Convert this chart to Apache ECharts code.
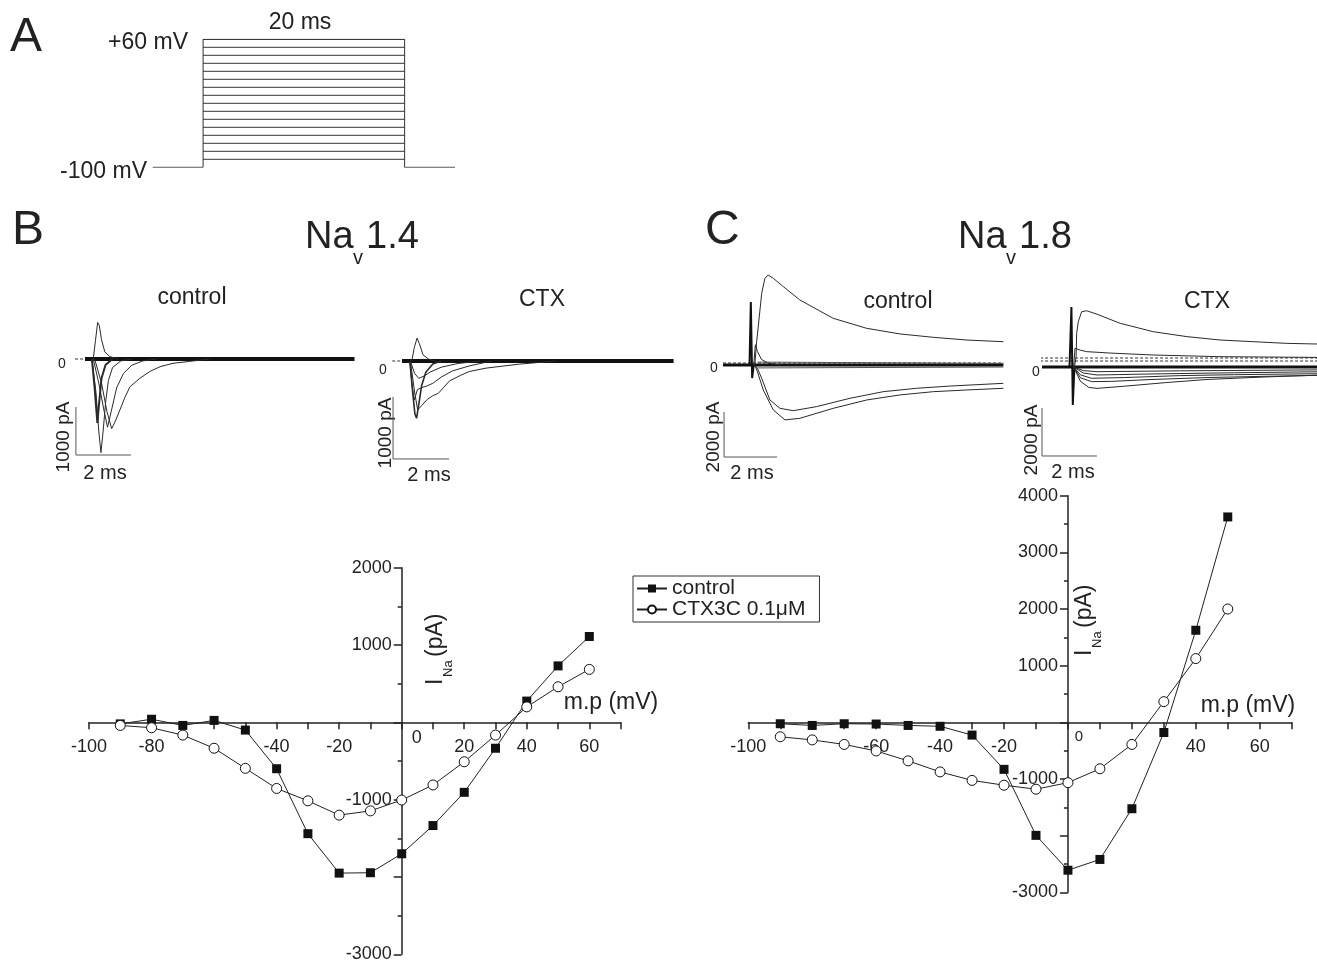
<!DOCTYPE html>
<html>
<head>
<meta charset="utf-8">
<title>Nav1.4 / Nav1.8 CTX3C</title>
<script src="https://cdn.jsdelivr.net/npm/echarts@6/dist/echarts.min.js"></script>
<style>
    html, body { margin: 0; padding: 0; background: #fff; }
    #chart { width: 1317px; height: 963px; }
</style>
</head>
<body>
<div id="chart"></div>
<script>
const FONT = "'Liberation Sans', Arial, sans-serif"
const INK = '#222'

// A: voltage protocol (ms, mV)
const protoTime = [-5, 0, 0, 20, 20, 25]
const protoVolt = [-100, -100, 60, 60, -100, -100]
const protoLevels = [-90, -80, -70, -60, -50, -40, -30, -20, -10, 0, 10, 20, 30, 40, 50, 60]

// I-V curves (mV, pA)
const mp14 = [-90, -80, -70, -60, -50, -40, -30, -20, -10, 0, 10, 20, 30, 40, 50, 60]
const nav14Control = [-20, 40, -40, 25, -100, -600, -1440, -1950, -1945, -1700, -1335, -905, -335, 275, 730, 1110]
const nav14Ctx = [-40, -70, -165, -335, -595, -855, -1015, -1200, -1145, -1005, -810, -510, -165, 200, 460, 685]
const mp18 = [-90, -80, -70, -60, -50, -40, -30, -20, -10, 0, 10, 20, 30, 40, 50]
const nav18Control = [-25, -55, -25, -30, -55, -70, -225, -830, -1995, -2610, -2420, -1525, -180, 1625, 3625]
const nav18Ctx = [-255, -310, -390, -505, -680, -875, -1025, -1110, -1180, -1065, -820, -390, 365, 1125, 2000]

// tick labels that are printed
const xLabels14 = [-100, -80, -40, -20, 0, 20, 40, 60]
const xLabels18 = [-100, -60, -40, -20, 0, 40, 60]
const yLabels14 = [2000, 1000, -1000, -3000]
const yLabels18 = [4000, 3000, 2000, 1000, -1000, -3000]

// B, Nav1.4 control traces [ms, pA]
const b14CtrlBase = [[0, 0], [9.8, 0]]
const b14CtrlOut = [[0.3, 0], [0.38, 380], [0.46, 760], [0.52, 700], [0.6, 400], [0.72, 150], [0.9, 50], [1.2, 0]]
const b14CtrlIn1 = [[0.25, 0], [0.4, -700], [0.5, -1500], [0.58, -1950], [0.66, -1500], [0.75, -900], [0.85, -450], [1.0, -180], [1.3, -40], [1.7, 0]]
const b14CtrlIn2 = [[0.25, 0], [0.35, -600], [0.45, -1330], [0.5, -1000], [0.6, -400], [0.75, -120], [1.0, 0]]
const b14CtrlIn3 = [[0.3, 0], [0.5, -500], [0.7, -1100], [0.82, -1420], [0.95, -1100], [1.15, -600], [1.4, -300], [1.7, -130], [2.1, -40], [2.6, 0]]
const b14CtrlIn4 = [[0.35, 0], [0.6, -500], [0.8, -1100], [0.97, -1450], [1.1, -1300], [1.27, -1060], [1.45, -800], [1.64, -575], [2.0, -400], [2.36, -260], [2.73, -160], [3.2, -90], [3.8, -50], [4.5, 0]]
const b14CtrlBar = [[-0.33, -1000], [-0.33, -2000], [1.67, -2000]]
const b14CtrlZero = [[-0.36, 0], [-0.05, 0]]

// B, Nav1.4 CTX traces
const b14CtxBase = [[0, 0], [9.7, 0]]
const b14CtxOut = [[0.35, 0], [0.44, 220], [0.54, 370], [0.62, 280], [0.75, 100], [0.95, 30], [1.2, 0]]
const b14CtxIn1 = [[0.28, 0], [0.38, -500], [0.46, -850], [0.52, -925], [0.6, -700], [0.7, -400], [0.85, -180], [1.1, -50], [1.4, 0]]
const b14CtxIn2 = [[0.3, 0], [0.45, -500], [0.56, -790], [0.7, -720], [0.9, -620], [1.1, -560], [1.3, -520], [1.5, -420], [1.7, -320], [2.1, -230], [2.4, -170], [3.0, -115], [4.2, -50], [5.5, 0]]
const b14CtxIn3 = [[0.28, 0], [0.36, -400], [0.44, -630], [0.55, -460], [0.7, -430], [0.9, -400], [1.1, -360], [1.4, -260], [1.8, -160], [2.4, -80], [3.2, 0]]
const b14CtxIn4 = [[0.3, 0], [0.45, -200], [0.6, -280], [0.8, -240], [1.0, -180], [1.4, -100], [2.0, -40], [2.8, 0]]
const b14CtxBar = [[-0.32, -580], [-0.32, -1580], [1.68, -1580]]
const b14CtxZero = [[-0.35, 0], [-0.05, 0]]

// C, Nav1.8 control traces
const c18CtrlBase = [[0, 0], [10.58, 0]]
const c18CtrlBandHi = [[1.3, 130], [10.58, 70]]
const c18CtrlBandLo = [[1.3, -130], [10.58, -90]]
const c18CtrlSpike = [[1.0, 0], [1.05, 2800], [1.1, -580], [1.16, 0]]
const c18CtrlBump = [[1.16, 0], [1.22, 900], [1.3, 600], [1.45, 250], [1.7, 80], [2.2, 0]]
const c18CtrlOut = [[1.2, 0], [1.27, 1035], [1.33, 1700], [1.46, 3185], [1.58, 3850], [1.7, 4000], [1.9, 3850], [2.28, 3480], [2.9, 2890], [4.16, 2075], [5.42, 1630], [6.68, 1380], [7.94, 1230], [9.2, 1110], [10.58, 1035]]
const c18CtrlIn1 = [[1.2, 0], [1.3, -300], [1.52, -1110], [1.9, -2000], [2.34, -2440], [2.9, -2370], [4.16, -1925], [5.42, -1555], [6.68, -1330], [7.94, -1185], [9.2, -1110], [10.58, -1035]]
const c18CtrlIn2 = [[1.2, 0], [1.3, -150], [1.46, -590], [1.77, -1555], [2.15, -1925], [2.65, -2030], [3.53, -1850], [4.79, -1480], [6.05, -1185], [7.31, -1035], [8.57, -935], [10.58, -815]]
const c18CtrlBar = [[0.04, -2090], [0.04, -4090], [2.04, -4090]]
const c18CtrlZero = [[0, 90], [10.58, 90]]

// C, Nav1.8 CTX traces
const c18CtxBase = [[0, 0], [10, 0]]
const c18CtxSpike = [[1.0, 0], [1.07, 2500], [1.12, -1580], [1.18, 0]]
const c18CtxOut = [[1.18, 0], [1.24, 430], [1.26, 1400], [1.32, 1890], [1.44, 2300], [1.62, 2345], [2.0, 2200], [2.84, 1820], [4.05, 1470], [5.27, 1265], [6.47, 1125], [7.68, 1055], [8.9, 985], [10, 958]]
const c18CtxUp = [[1.15, 0], [1.2, 780], [1.4, 700], [1.62, 640], [2.5, 580], [4.05, 500], [6.47, 430], [10, 400]]
const c18CtxIn1 = [[1.15, 0], [1.4, -600], [1.7, -850], [2.0, -890], [3.0, -800], [4.5, -650], [6, -520], [8, -420], [10, -340]]
const c18CtxIn2 = [[1.15, 0], [1.4, -450], [1.8, -610], [2.5, -600], [4, -520], [6, -440], [8, -390], [10, -350]]
const c18CtxIn3 = [[1.15, 0], [1.4, -330], [1.8, -470], [3, -440], [5, -360], [7, -320], [10, -280]]
const c18CtxIn4 = [[1.15, 0], [1.5, -250], [2, -333], [4, -290], [7, -240], [10, -200]]
const c18CtxIn5 = [[1.15, 0], [1.5, -150], [2, -195], [5, -160], [10, -120]]
const c18CtxBar = [[0, -1708], [0, -3708], [2, -3708]]
const c18CtxZero1 = [[-0.07, 250], [10, 250]]
const c18CtxZero2 = [[-0.07, 375], [10, 375]]

const chart = echarts.init(document.getElementById('chart'), null, { renderer: 'canvas' })

const grids = [
    { left: 152.7, top: 39.3, width: 302.3, height: 128 },   // A
    { left: 71.25, top: 311, width: 288.75, height: 153.6 }, // B control
    { left: 388, top: 311.4, width: 288.4, height: 155 },    // B CTX
    { left: 723, top: 270.5, width: 280.9, height: 189 },    // C control
    { left: 1042, top: 295, width: 275, height: 172.8 },     // C CTX
    { left: 89, top: 567.7, width: 531.6, height: 386.6 },   // B I-V
    { left: 748.3, top: 495.7, width: 543.4, height: 396.6 }, // C I-V
].map(g => ({ ...g, outerBoundsMode: 'none', containLabel: false }))

const hiddenRanges = [
    [[-5, 25], [-100, 60]],
    [[-0.5, 10], [-2200, 1000]],
    [[-0.5, 9.8], [-1700, 800]],
    [[0, 10.6], [-4200, 4200]],
    [[0, 10], [-4200, 3000]],
]

const axisStroke = { color: INK, width: 1.5 }

// the I-V axes cross at (0, 0): shift them from the grid edges by the zero position
const zeroOffsetX = (g, min, max) => -g.height * (0 - min) / (max - min)
const zeroOffsetY = (g, min, max) => -g.width * (0 - min) / (max - min)

const ivXAxis = (gridIndex, yMin, yMax, labels, zeroPad, zeroSize) => ({
    gridIndex,
    type: 'value',
    min: -100,
    max: 70,
    interval: 10,
    offset: zeroOffsetX(grids[gridIndex], yMin, yMax),
    axisLine: { onZero: false, lineStyle: axisStroke },
    axisTick: { length: 7, lineStyle: axisStroke },
    splitLine: { show: false },
    axisLabel: {
        margin: 7,
        color: INK,
        fontFamily: FONT,
        fontSize: 18,
        formatter: v => (v === 0 ? '{z|0}' : labels.includes(v) ? '{a|' + v + '}' : ''),
        rich: {
            a: { fontSize: 18, fontFamily: FONT, color: INK, padding: [9, 0, 0, 0] },
            z: { fontSize: zeroSize, fontFamily: FONT, color: INK, padding: [0, 0, 0, zeroPad] },
        },
    },
})

const ivYAxis = (gridIndex, min, max, labels) => ({
    gridIndex,
    type: 'value',
    min,
    max,
    interval: 1000,
    offset: zeroOffsetY(grids[gridIndex], -100, 70),
    axisLine: { onZero: false, lineStyle: axisStroke },
    axisTick: { length: 8, lineStyle: axisStroke },
    minorTick: { show: true, splitNumber: 2, length: 4, lineStyle: axisStroke },
    splitLine: { show: false },
    minorSplitLine: { show: false },
    axisLabel: {
        margin: 10,
        color: INK,
        fontFamily: FONT,
        fontSize: 18,
        formatter: v => (labels.includes(v) ? String(v) : ''),
    },
})

const xAxis = hiddenRanges.map((r, i) => ({ gridIndex: i, type: 'value', min: r[0][0], max: r[0][1], show: false }))
const yAxis = hiddenRanges.map((r, i) => ({ gridIndex: i, type: 'value', min: r[1][0], max: r[1][1], show: false }))
xAxis.push(ivXAxis(5, -3000, 2000, xLabels14, 30, 18), ivXAxis(6, -3000, 4000, xLabels18, 22, 15))
yAxis.push(ivYAxis(5, -3000, 2000, yLabels14), ivYAxis(6, -3000, 4000, yLabels18))

const trace = (data, grid, width = 1, color = '#2a2a2a', type = 'solid') => ({
    type: 'line',
    xAxisIndex: grid,
    yAxisIndex: grid,
    data,
    symbol: 'none',
    silent: true,
    lineStyle: { color, width, type },
})

const series = [
    trace(protoTime.map((t, i) => [t, protoVolt[i]]), 0, 1, '#333'),
    ...protoLevels.map(v => trace([[0, v], [20, v]], 0, 1, '#333')),

    trace(b14CtrlZero, 1, 1, '#333', [3, 2]),
    trace(b14CtrlBase, 1, 4, '#111'),
    trace(b14CtrlOut, 1),
    trace(b14CtrlIn1, 1),
    trace(b14CtrlIn2, 1, 2),
    trace(b14CtrlIn3, 1),
    trace(b14CtrlIn4, 1),
    trace(b14CtrlBar, 1, 1, '#555'),

    trace(b14CtxZero, 2, 1, '#333', [3, 2]),
    trace(b14CtxBase, 2, 4, '#111'),
    trace(b14CtxOut, 2),
    trace(b14CtxIn1, 2, 1.6),
    trace(b14CtxIn2, 2),
    trace(b14CtxIn3, 2),
    trace(b14CtxIn4, 2),
    trace(b14CtxBar, 2, 1, '#555'),

    trace(c18CtrlZero, 3, 1, '#333', [3, 2]),
    trace(c18CtrlBase, 3, 3, '#111'),
    trace(c18CtrlBandHi, 3, 1, '#555'),
    trace(c18CtrlBandLo, 3, 1, '#555'),
    trace(c18CtrlSpike, 3, 2, '#111'),
    trace(c18CtrlBump, 3),
    trace(c18CtrlOut, 3),
    trace(c18CtrlIn1, 3),
    trace(c18CtrlIn2, 3),
    trace(c18CtrlBar, 3, 1, '#555'),

    trace(c18CtxZero1, 4, 1, '#333', [3, 2]),
    trace(c18CtxZero2, 4, 1, '#333', [3, 2]),
    trace(c18CtxBase, 4, 3, '#111'),
    trace(c18CtxSpike, 4, 2, '#111'),
    trace(c18CtxOut, 4),
    trace(c18CtxUp, 4),
    trace(c18CtxIn1, 4),
    trace(c18CtxIn2, 4),
    trace(c18CtxIn3, 4),
    trace(c18CtxIn4, 4),
    trace(c18CtxIn5, 4),
    trace(c18CtxBar, 4, 1, '#555'),
]

const ivSeries = (name, grid, xs, ys, filled) => ({
    name,
    type: 'line',
    xAxisIndex: grid,
    yAxisIndex: grid,
    data: xs.map((x, i) => [x, ys[i]]),
    symbol: filled ? 'rect' : 'circle',
    symbolSize: filled ? 9 : 10,
    showSymbol: true,
    silent: true,
    z: filled ? 3 : 4,
    lineStyle: { color: INK, width: 1 },
    itemStyle: filled ? { color: '#111' } : { color: '#fff', borderColor: '#111', borderWidth: 1 },
})

series.push(
    ivSeries('control', 5, mp14, nav14Control, true),
    ivSeries('CTX3C 0.1μM', 5, mp14, nav14Ctx, false),
    ivSeries('control', 6, mp18, nav18Control, true),
    ivSeries('CTX3C 0.1μM', 6, mp18, nav18Ctx, false),
)

const txt = (x, y, text, size, align = 'center', rotation = 0) => ({
    type: 'text',
    x,
    y,
    rotation,
    silent: true,
    style: { text, fontSize: size, fontFamily: FONT, fill: INK, align, verticalAlign: 'middle' },
})
const UP = Math.PI / 2

const graphic = [
    txt(10, 38, 'A', 48, 'left'),
    txt(188, 43, '+60 mV', 23, 'right'),
    txt(300, 23, '20 ms', 23),
    txt(147, 172, '-100 mV', 23, 'right'),

    txt(12, 231, 'B', 48, 'left'),
    txt(305, 238, 'Na', 38, 'left'),
    txt(353, 258, 'v', 20, 'left'),
    txt(366, 238, '1.4', 38, 'left'),
    txt(705, 231, 'C', 48, 'left'),
    txt(958, 238, 'Na', 38, 'left'),
    txt(1006, 258, 'v', 20, 'left'),
    txt(1019, 238, '1.8', 38, 'left'),

    txt(192, 298, 'control', 23),
    txt(542, 300, 'CTX', 23),
    txt(898, 302, 'control', 23),
    txt(1207, 302, 'CTX', 23),

    txt(62, 364, '0', 14),
    txt(383, 370, '0', 14),
    txt(714, 368, '0', 14),
    txt(1036, 372, '0', 14),

    txt(64, 437, '1000 pA', 19, 'center', UP),
    txt(386, 433, '1000 pA', 19, 'center', UP),
    txt(714, 437, '2000 pA', 19, 'center', UP),
    txt(1032, 440, '2000 pA', 19, 'center', UP),

    txt(105, 473, '2 ms', 20),
    txt(429, 475, '2 ms', 20),
    txt(752, 473, '2 ms', 20),
    txt(1073, 472, '2 ms', 20),

    txt(436, 685, 'I', 23, 'left', UP),
    txt(448, 677, 'Na', 13, 'left', UP),
    txt(436, 657, '(pA)', 23, 'left', UP),
    txt(1085, 656, 'I', 23, 'left', UP),
    txt(1097, 648, 'Na', 13, 'left', UP),
    txt(1085, 628, '(pA)', 23, 'left', UP),

    txt(611, 703, 'm.p (mV)', 23),
    txt(1248, 706, 'm.p (mV)', 23),
]

chart.setOption({
    backgroundColor: '#fff',
    animation: false,
    textStyle: { fontFamily: FONT },
    grid: grids,
    xAxis,
    yAxis,
    legend: {
        data: ['control', 'CTX3C 0.1μM'],
        orient: 'vertical',
        left: 633,
        top: 576,
        itemWidth: 30,
        itemHeight: 10,
        itemGap: 0,
        padding: [2, 14, 2, 3],
        borderColor: '#333',
        borderWidth: 1,
        borderRadius: 0,
        selectedMode: false,
        textStyle: { fontSize: 21, fontFamily: FONT, color: INK, lineHeight: 19 },
    },
    graphic,
    series,
})
</script>
</body>
</html>
